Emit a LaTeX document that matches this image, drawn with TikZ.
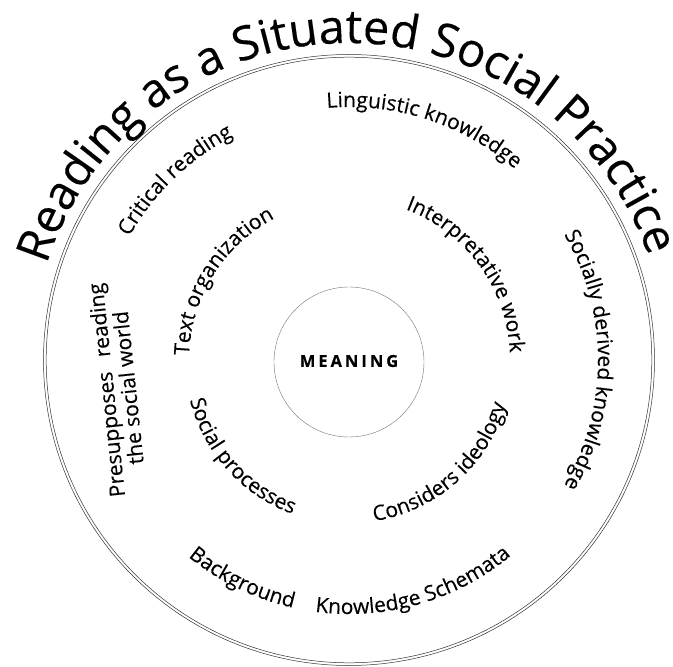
\documentclass[tikz,border=0pt]{standalone}
\usepackage{fontspec}
\setmainfont{Open Sans}[FakeBold=0.3]
\usetikzlibrary{decorations.text}
\newcommand\arcfont{\fontsize{21}{25}\selectfont}
\newcommand\titlefont{\fontsize{47}{52}\selectfont}
\tikzset{
  ring/.style={draw=black!80, line width=0.5pt},
  arctext/.style={decorate, decoration={text along path, text align=center, text={|\arcfont|#1}}},
  titletext/.style={decorate, decoration={text along path, text align=center, text={|\titlefont|#1}}},
  core/.style={circle, draw=black!55, line width=0.4pt, minimum size=150pt, inner sep=0pt},
  corelabel/.style={font=\bfseries\fontsize{16.5}{18}\selectfont, inner sep=0pt},
  sidelabel/.style={font=\fontsize{21}{22}\selectfont, align=center, inner sep=0pt, rotate=96}
}
\begin{document}
\begin{tikzpicture}[x=1pt,y=1pt]
\useasboundingbox (-349,-307) rectangle (324,360);
\coordinate (O) at (0,0);
% outer double ring
\draw[ring] (O) circle[radius=305.5];
\draw[ring] (O) circle[radius=302.8];
% central circle
\node[core] (corecircle) at (0,-2) {};
\node[corelabel] (meaning) at (0,-1) {M\kern3pt E\kern3pt A\kern3pt N\kern3pt I\kern3pt N\kern3pt G};
% title
\path[titletext={Reading as a Situated Social Practice}] (179.8:317) arc[start angle=179.8, end angle=1.8, radius=317];
% outer ring texts (clockwise, tops outward)
\path[arctext={Linguistic knowledge}] (127:253) arc[start angle=127, end angle=17, radius=253];
\path[arctext={Critical reading}] (184:252) arc[start angle=184, end angle=84, radius=252];
\path[arctext={Socially derived knowledge}] (60:249) arc[start angle=60, end angle=-60, radius=249];
% bottom (counter-clockwise, tops inward)
\path[arctext={Background}] (214:254) arc[start angle=214, end angle=274, radius=254];
\path[arctext={Knowledge Schemata}] (236:254) arc[start angle=236, end angle=336, radius=254];
% inner ring texts
\path[arctext={Text organization}] (210:160) arc[start angle=210, end angle=86, radius=160];
\path[arctext={Interpretative work}] (100:161) arc[start angle=100, end angle=-28, radius=161];
\path[arctext={Considers ideology}] (250:163) arc[start angle=250, end angle=373, radius=163];
\path[arctext={Social processes}] (160:164) arc[start angle=160, end angle=284, radius=164];
% left straight label
\node[sidelabel] (presup) at (-232,-29) {Presupposes\hspace{0.45em} reading\\the social world};
\end{tikzpicture}
\end{document}
